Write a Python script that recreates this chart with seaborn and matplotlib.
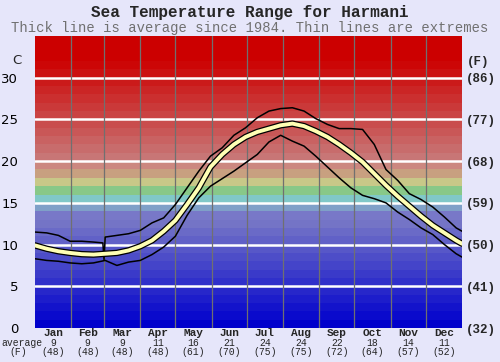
import numpy as np
import pandas as pd
import seaborn as sns
import matplotlib.pyplot as plt
import matplotlib.colors as mcolors
import matplotlib.transforms as mtrans

sns.set_theme(style="white")
plt.rcParams["font.family"] = ["DejaVu Sans"]

# values (day of year -> deg C)
days = [0, 10, 20, 30, 40, 50, 60, 70, 80, 90, 100, 110, 120, 130, 140, 150, 160, 170, 180,
        190, 200, 210, 220, 230, 240, 250, 260, 270, 280, 290, 300, 310, 320, 330, 340, 350, 360, 365]
avg_temp = [9.9, 9.5, 9.2, 9.0, 8.85, 8.8, 8.9, 9.0, 9.3, 9.8, 10.5, 11.6, 12.9, 14.8, 16.8, 19.3, 20.8, 22.0, 22.9,
            23.5, 23.9, 24.3, 24.5, 24.2, 23.6, 22.9, 22.0, 21.0, 19.9, 18.5, 17.1, 15.8, 14.6, 13.4, 12.3, 11.4, 10.5, 10.1]
min_temp = [8.3, 8.1, 8.0, 7.8, 7.7, 7.8, 8.1, 7.5, 7.9, 8.1, 8.8, 9.7, 11.0, 13.5, 15.6, 17.0, 17.9, 18.8, 19.8,
            20.8, 22.3, 23.1, 22.4, 21.8, 20.6, 19.3, 18.0, 16.8, 15.9, 15.5, 15.0, 13.9, 13.0, 12.0, 11.2, 10.0, 8.9, 8.5]
max_days = [0, 10, 20, 30, 40, 50, 58, 59, 60, 70, 80, 90, 100, 110, 120, 130, 140, 150, 160, 170, 180,
            190, 200, 210, 220, 230, 240, 250, 260, 270, 280, 290, 300, 310, 320, 330, 340, 350, 360, 365]
max_temp = [11.5, 11.4, 11.1, 10.4, 10.4, 10.3, 10.2, 8.2, 10.9, 11.1, 11.3, 11.7, 12.6, 13.2, 14.8, 16.8, 18.8, 20.6,
            21.6, 23.1, 24.0, 25.2, 26.0, 26.3, 26.4, 26.0, 25.1, 24.4, 23.9, 23.9, 23.8, 22.0, 19.0, 17.7, 16.1, 15.4,
            14.5, 13.3, 12.0, 11.6]

month_names = ["Jan", "Feb", "Mar", "Apr", "May", "Jun", "Jul", "Aug", "Sep", "Oct", "Nov", "Dec"]
month_start = [0, 31, 59, 90, 120, 151, 181, 212, 243, 273, 304, 334, 365]
month_avg_c = [9, 9, 9, 11, 16, 21, 24, 24, 22, 18, 14, 11]
month_avg_f = [48, 48, 48, 48, 61, 70, 75, 75, 72, 64, 57, 52]
c_ticks = [0, 5, 10, 15, 20, 25, 30]
f_labels = ["(32)", "(41)", "(50)", "(59)", "(68)", "(77)", "(86)"]

bg = "#e6e6fa"
fig = plt.figure(figsize=(5, 3.62), dpi=100, facecolor=bg)
ax = fig.add_axes([35 / 500, 1 - 328 / 362, 427 / 500, 292 / 362])

# colour bands behind the curves
blue0, blue1 = np.array(mcolors.to_rgb("#0000cc")), np.array(mcolors.to_rgb("#7474c6"))
red0, red1 = np.array(mcolors.to_rgb("#c87676")), np.array(mcolors.to_rgb("#cc0606"))
mid = {13: "#7878c8", 14: "#7fa0c8", 15: "#80c8c8", 16: "#88c888", 17: "#c8c888", 18: "#c8a080", 19: "#cc8880"}
for d in range(35):
    if d < 13:
        c = blue0 + (blue1 - blue0) * d / 12
    elif d in mid:
        c = mid[d]
    elif d < 32:
        c = red0 + (red1 - red0) * (d - 20) / 11
    else:
        c = "#cc0000"
    ax.axhspan(d, d + 1, color=c, lw=0, zorder=0)

for t in c_ticks[1:]:
    ax.axhline(t, color="white", lw=1.8, zorder=1)
for m in month_start[1:-1]:
    ax.axvline(m, color="#707070", lw=0.9, zorder=1)

sns.lineplot(x=max_days, y=max_temp, color="black", lw=1.1, ax=ax, zorder=3)
sns.lineplot(x=days, y=min_temp, color="black", lw=1.1, ax=ax, zorder=3)
sns.lineplot(x=days, y=avg_temp, color="black", lw=4.6, ax=ax, zorder=4)
sns.lineplot(x=days, y=avg_temp, color="#ffffb4", lw=2.8, ax=ax, zorder=5)

ax.set_xlim(0, 365)
ax.set_ylim(0, 35)
for s in ax.spines.values():
    s.set_visible(False)
ax.set_xticks([])
ax.set_yticks(c_ticks)
ax.set_yticklabels([str(t) for t in c_ticks], fontsize=9.5, color="black")
ax.tick_params(axis="y", length=0, pad=12)
ax.set_xlabel("")
ax.set_ylabel("")

ax2 = ax.twinx()
ax2.set_ylim(0, 35)
ax2.set_yticks(c_ticks)
ax2.set_yticklabels(f_labels, fontsize=9, fontweight="bold", family="Liberation Mono")
ax2.tick_params(axis="y", length=0, pad=3)
for s in ax2.spines.values():
    s.set_visible(False)

trans = mtrans.blended_transform_factory(ax.transData, fig.transFigure)
for i, name in enumerate(month_names):
    xm = (month_start[i] + month_start[i + 1]) / 2
    ax.text(xm, 1 - 333 / 362, name, transform=trans, ha="center", va="center",
            fontsize=8, fontweight="bold", family="Liberation Mono")
    ax.text(xm, 1 - 343 / 362, str(month_avg_c[i]), transform=trans, ha="center", va="center",
            fontsize=7, family="Liberation Mono")
    ax.text(xm, 1 - 352 / 362, "(%d)" % month_avg_f[i], transform=trans, ha="center", va="center",
            fontsize=7, family="Liberation Mono")

fig.text(22 / 500, 1 - 343 / 362, "average", ha="center", va="center", fontsize=7, family="Liberation Mono")
fig.text(18 / 500, 1 - 352 / 362, "(F)", ha="center", va="center", fontsize=7, family="Liberation Mono")
fig.text(17 / 500, 1 - 61 / 362, "C", ha="center", va="center", fontsize=9.5)
fig.text(478 / 500, 1 - 62 / 362, "(F)", ha="center", va="center", fontsize=9, fontweight="bold",
         family="Liberation Mono")

fig.text(0.5, 1 - 13 / 362, "Sea Temperature Range for Harmani", ha="center", va="center",
         fontsize=11.5, fontweight="bold", family="Liberation Mono")
fig.text(0.5, 1 - 28 / 362, "Thick line is average since 1984. Thin lines are extremes", ha="center",
         va="center", fontsize=10, color="#707070", family="Liberation Mono")

fig.savefig("out.png", dpi=100, facecolor=bg)
